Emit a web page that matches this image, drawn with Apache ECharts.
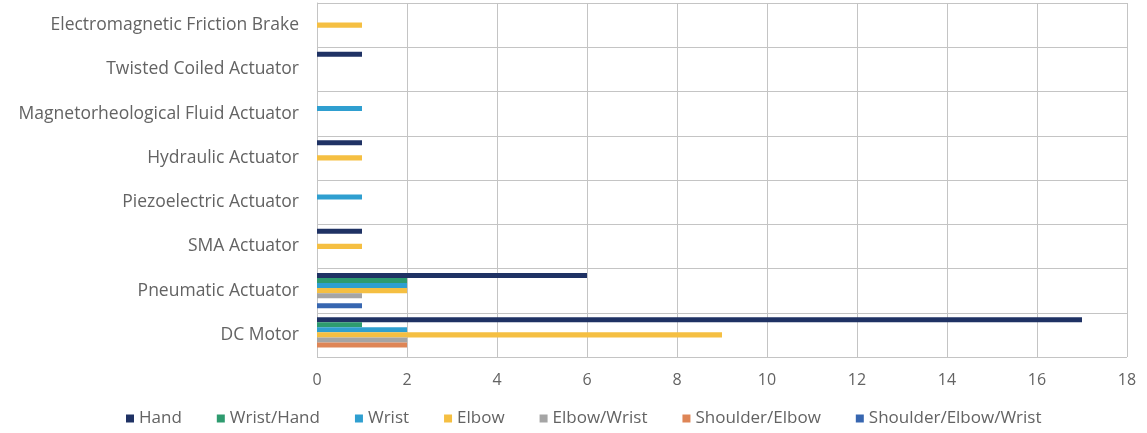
<!DOCTYPE html>
<html>
<head>
<meta charset="utf-8">
<script src="https://cdn.jsdelivr.net/npm/echarts@6/dist/echarts.min.js"></script>
<style>
  html, body { margin: 0; padding: 0; background: #fff; }
  #chart { width: 1147px; height: 433px; }
</style>
</head>
<body>
<div id="chart"></div>
<script>
// categories, bottom to top (as on the y axis)
const actuators = [
  "DC Motor",
  "Pneumatic Actuator",
  "SMA Actuator",
  "Piezoelectric Actuator",
  "Hydraulic Actuator",
  "Magnetorheological Fluid Actuator",
  "Twisted Coiled Actuator",
  "Electromagnetic Friction Brake"
];

const seriesNames = ["Hand", "Wrist/Hand", "Wrist", "Elbow", "Elbow/Wrist", "Shoulder/Elbow", "Shoulder/Elbow/Wrist"];
const seriesColors = ["#1f3264", "#2e9b6f", "#2f9fd0", "#f5bf42", "#a5a5a5", "#de8556", "#3766b0"];

// values per series, same order as actuators
const hand            = [17, 6, 1, 0, 1, 0, 1, 0];
const wristHand       = [1, 2, 0, 0, 0, 0, 0, 0];
const wrist           = [2, 2, 0, 1, 0, 1, 0, 0];
const elbow           = [9, 2, 1, 0, 1, 0, 0, 1];
const elbowWrist      = [2, 1, 0, 0, 0, 0, 0, 0];
const shoulderElbow   = [2, 0, 0, 0, 0, 0, 0, 0];
const shoulderElbowWrist = [0, 1, 0, 0, 0, 0, 0, 0];

const values = [hand, wristHand, wrist, elbow, elbowWrist, shoulderElbow, shoulderElbowWrist];

const xTicks = { min: 0, max: 18, interval: 2 };

const myChart = echarts.init(document.getElementById("chart"));

const series = seriesNames.map((name, i) => ({
  name: name,
  type: "bar",
  data: values[i].map(v => (v === 0 ? null : v)),
  itemStyle: { color: seriesColors[i] },
  barGap: "0%",
  barCategoryGap: "20%"
}));

const option = {
  animation: false,
  textStyle: { fontFamily: "Open Sans", color: "#636363" },
  grid: { left: 317, right: 20, top: 3, bottom: 76 },
  legend: {
    bottom: 1,
    left: 121,
    data: seriesNames,
    itemWidth: 8,
    itemHeight: 8,
    itemGap: 35,
    icon: "rect",
    textStyle: { fontFamily: "Open Sans", fontSize: 17, color: "#636363" }
  },
  xAxis: {
    type: "value",
    min: xTicks.min,
    max: xTicks.max,
    interval: xTicks.interval,
    axisLine: { show: false },
    axisTick: { show: false },
    axisLabel: { fontSize: 16, color: "#636363", margin: 15 },
    splitLine: { show: true, lineStyle: { color: "#c4c4c4", width: 1 } }
  },
  yAxis: {
    type: "category",
    data: actuators,
    axisLine: { show: true, lineStyle: { color: "#c4c4c4" } },
    axisTick: { show: false },
    axisLabel: { fontSize: 17.5, color: "#636363", margin: 18 },
    splitLine: { show: true, lineStyle: { color: "#c4c4c4", width: 1 } }
  },
  series: series
};

myChart.setOption(option);
</script>
</body>
</html>
